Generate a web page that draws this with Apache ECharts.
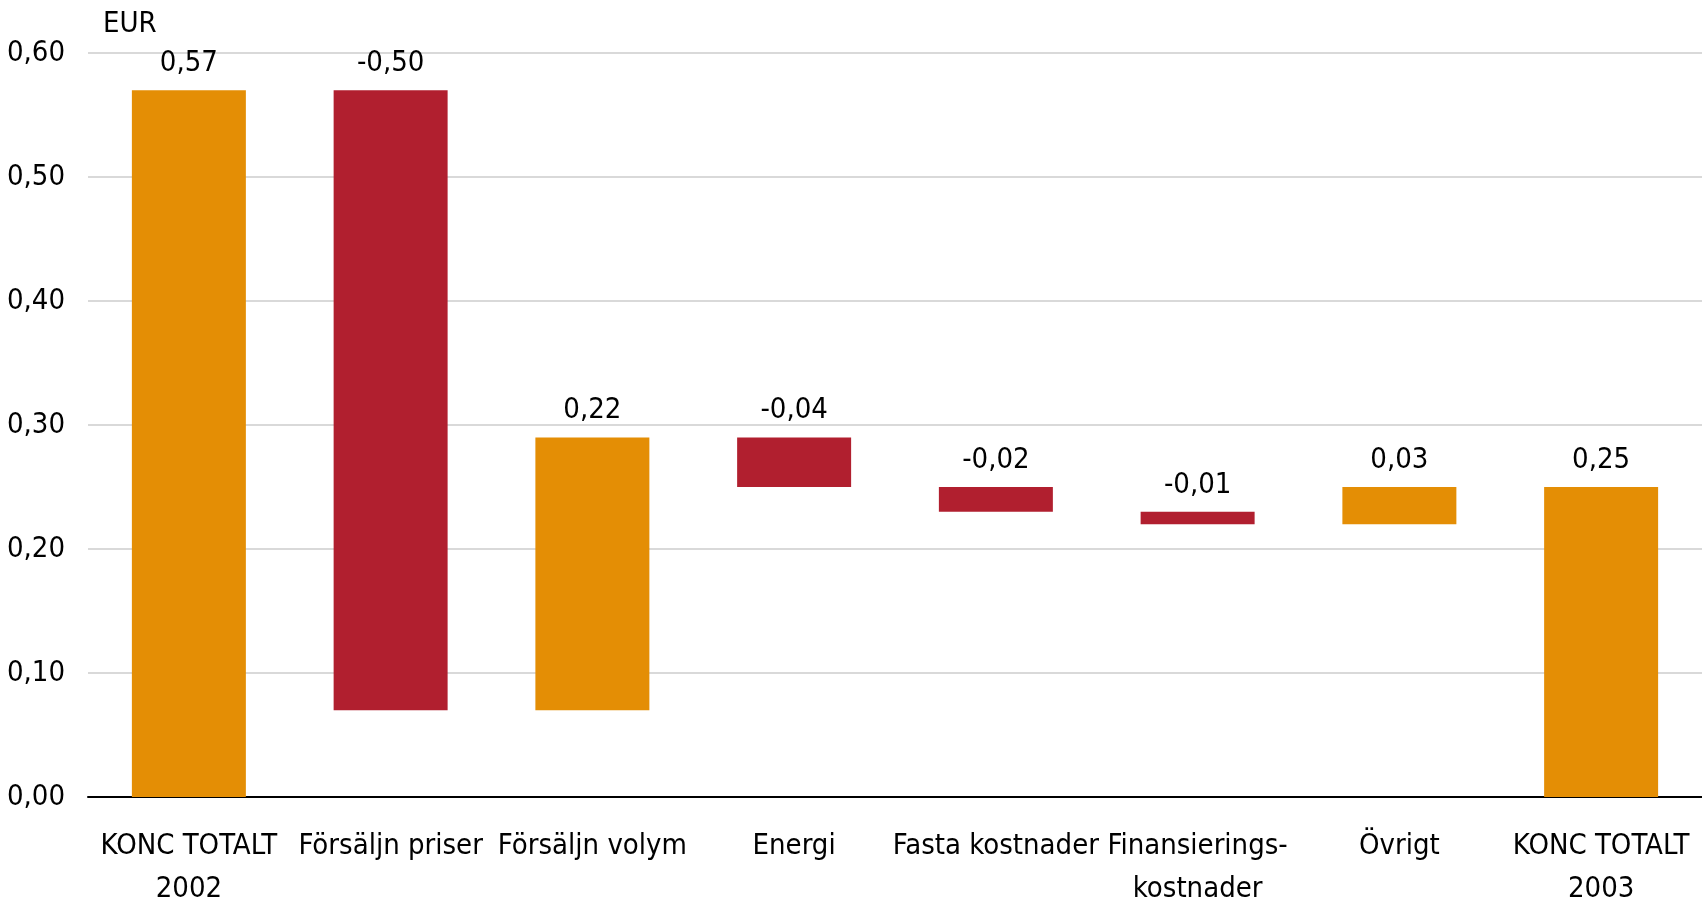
<!DOCTYPE html>
<html>
<head>
<meta charset="utf-8">
<script src="https://cdn.jsdelivr.net/npm/echarts@6/dist/echarts.min.js"></script>
<style>
html,body{margin:0;padding:0;background:#fff;}
#chart{width:1702px;height:900px;}
</style>
</head>
<body>
<div id="chart"></div>
<script>
const categories = ["KONC TOTALT\n2002", "Försäljn priser", "Försäljn volym", "Energi", "Fasta kostnader", "Finansierings-\nkostnader", "Övrigt", "KONC TOTALT\n2003"];
const changes = [0.57, -0.50, 0.22, -0.04, -0.02, -0.01, 0.03, 0.25];
const isTotal = [true, false, false, false, false, false, false, true];
const yTicks = [0, 0.1, 0.2, 0.3, 0.4, 0.5, 0.6];
const unitLabel = "EUR";

const ORANGE = "#e48e05";
const RED = "#b11f2f";
const FONT = "'Liberation Sans Narrow', 'Arial Narrow', 'DejaVu Sans Condensed', sans-serif";

// waterfall build
let running = 0;
const baseData = [];
const deltaData = [];
changes.forEach((v, i) => {
  if (isTotal[i]) {
    baseData.push(0);
    deltaData.push({value: v, itemStyle: {color: ORANGE}});
    running = v;
  } else {
    const next = +(running + v).toFixed(4);
    baseData.push(Math.min(running, next));
    deltaData.push({value: Math.abs(v), itemStyle: {color: v < 0 ? RED : ORANGE}});
    running = next;
  }
});
const fmt = v => v.toFixed(2).replace('.', ',');

const chart = echarts.init(document.getElementById('chart'), null, {renderer: 'canvas'});
chart.setOption({
  animation: false,
  textStyle: {fontFamily: FONT},
  grid: {left: 88, right: 0, top: 53, bottom: 103, containLabel: false, outerBoundsMode: 'none'},
  xAxis: {
    type: 'category',
    data: categories,
    axisLine: {show: true, lineStyle: {color: '#000', width: 2}},
    axisTick: {show: false},
    axisLabel: {color: '#000', fontSize: 29, fontFamily: FONT, margin: 28, lineHeight: 43, interval: 0}
  },
  yAxis: {
    type: 'value',
    min: yTicks[0], max: yTicks[yTicks.length - 1], interval: 0.1,
    axisLine: {show: false},
    axisTick: {show: false},
    splitLine: {lineStyle: {color: '#d9d9d9', width: 2}},
    axisLabel: {color: '#000', fontSize: 29, fontFamily: FONT, margin: 23, formatter: v => fmt(v)}
  },
  graphic: [{
    type: 'text', left: 103, top: 10,
    style: {text: unitLabel, fontSize: 29, fontFamily: FONT, fill: '#000'}
  }],
  series: [
    {
      type: 'bar', stack: 'w', data: baseData, barWidth: '56.5%',
      itemStyle: {color: 'transparent'}, silent: true
    },
    {
      type: 'bar', stack: 'w', data: deltaData, barWidth: '56.5%',
      label: {
        show: true, position: 'top', distance: 12, color: '#000',
        fontSize: 29, fontFamily: FONT,
        formatter: p => fmt(changes[p.dataIndex])
      }
    }
  ]
});
</script>
</body>
</html>
